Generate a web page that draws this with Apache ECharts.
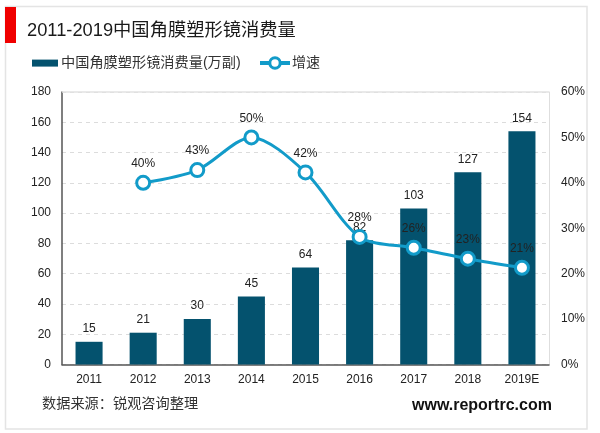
<!DOCTYPE html>
<html>
<head>
<meta charset="utf-8">
<style>
  html, body { margin: 0; padding: 0; background: #fff; }
  #chart { width: 600px; height: 433px; }
</style>
<script src="https://cdn.jsdelivr.net/npm/echarts@6/dist/echarts.min.js"></script>
</head>
<body>
<div id="chart"></div>
<script>
const categories = ['2011', '2012', '2013', '2014', '2015', '2016', '2017', '2018', '2019E'];
const consumption = [15, 21, 30, 45, 64, 82, 103, 127, 154];
const growth = [null, 40, 42.8, 50, 42.3, 28.1, 25.7, 23.3, 21.3];

const leftTicksMax = 180;
const rightTicksMax = 60;

const fontFamily = '"Liberation Sans", "Noto Sans CJK SC", sans-serif';
const textColor = '#222';

const barName = '中国角膜塑形镜消费量(万副)';
const lineName = '增速';

const myChart = echarts.init(document.getElementById('chart'), null, { renderer: 'canvas' });

myChart.setOption({
  animation: false,
  backgroundColor: '#fff',
  textStyle: { fontFamily: fontFamily },
  title: {
    text: '2011-2019中国角膜塑形镜消费量',
    left: 22,
    top: 17,
    textStyle: { fontSize: 18.3, fontWeight: 'normal', color: '#1a1a1a', fontFamily: fontFamily }
  },
  // two legends, so that each swatch can have its own height
  legend: [
    {
      left: 27,
      top: 51,
      itemWidth: 26,
      itemHeight: 7,
      textStyle: { fontSize: 14.2, color: '#333', fontFamily: fontFamily, padding: [0, 0, 0, -2] },
      data: [{ name: barName, icon: 'rect' }]
    },
    {
      left: 253,
      top: 51,
      itemWidth: 30,
      itemHeight: 13,
      lineStyle: { width: 4 },
      itemStyle: { borderWidth: 3 },
      textStyle: { fontSize: 14, color: '#333', fontFamily: fontFamily, padding: [0, 0, 0, -3] },
      data: [{ name: lineName }]
    }
  ],
  grid: { left: 62, right: 51, top: 92, bottom: 68.5 },
  xAxis: {
    type: 'category',
    data: categories,
    axisLine: { lineStyle: { color: '#555', width: 1.5 } },
    axisTick: { show: false },
    axisLabel: { color: textColor, fontSize: 12, margin: 9 }
  },
  yAxis: [
    {
      type: 'value',
      min: 0,
      max: leftTicksMax,
      interval: 20,
      axisLine: { show: true, lineStyle: { color: '#555', width: 1.5 } },
      axisTick: { show: false },
      axisLabel: { color: textColor, fontSize: 12, margin: 11 },
      splitLine: { lineStyle: { color: '#dcdcdc', type: [4, 4], width: 1 } }
    },
    {
      type: 'value',
      min: 0,
      max: rightTicksMax,
      interval: 10,
      axisLine: { show: true, lineStyle: { color: '#dedede', width: 1 } },
      axisTick: { show: false },
      axisLabel: { color: textColor, fontSize: 12, margin: 12, formatter: '{value}%' },
      splitLine: { show: false }
    }
  ],
  series: [
    {
      name: barName,
      type: 'bar',
      barWidth: '50%',
      data: consumption,
      itemStyle: { color: '#04526e' },
      label: { show: true, position: 'top', distance: 7, color: textColor, fontSize: 12 },
      // the top gridline is solid in the reference
      markLine: {
        silent: true,
        symbol: 'none',
        label: { show: false },
        lineStyle: { color: '#e2e2e2', type: 'solid', width: 1.5 },
        data: [{ yAxis: leftTicksMax }]
      }
    },
    {
      name: lineName,
      type: 'line',
      yAxisIndex: 1,
      smooth: 0.3,
      data: growth,
      connectNulls: false,
      symbol: 'circle',
      symbolSize: 13,
      showAllSymbol: true,
      z: 5,
      lineStyle: { color: '#129bc9', width: 3 },
      itemStyle: { color: '#fff', borderColor: '#129bc9', borderWidth: 3 },
      label: {
        show: true,
        position: 'top',
        distance: 5,
        color: textColor,
        fontSize: 12,
        formatter: p => Math.round(p.value) + '%'
      }
    }
  ],
  graphic: [
    {
      type: 'rect',
      silent: true,
      z: -1,
      shape: { x: 5.5, y: 6.5, width: 581.5, height: 422.5 },
      style: { fill: 'none', stroke: '#e4e4e4', lineWidth: 1.5 }
    },
    {
      type: 'rect',
      silent: true,
      shape: { x: 5, y: 7, width: 11, height: 36 },
      style: { fill: '#f00000' }
    },
    {
      type: 'text',
      left: 42,
      top: 397,
      style: { text: '数据来源：锐观咨询整理', font: '14.2px ' + fontFamily, fill: '#333' }
    },
    {
      type: 'text',
      left: 412,
      top: 398,
      style: { text: 'www.reportrc.com', font: 'bold 16px ' + fontFamily, fill: '#111' }
    }
  ]
});
</script>
</body>
</html>
